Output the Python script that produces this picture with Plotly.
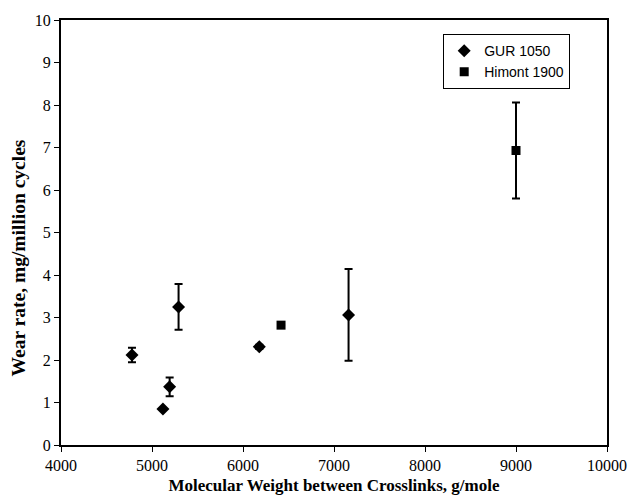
import plotly.graph_objects as go

gur_x = [4780, 5120, 5194, 5292, 6179, 7160]
gur_y = [2.12, 0.85, 1.37, 3.25, 2.31, 3.06]
gur_err = [0.17, 0.0, 0.22, 0.54, 0.05, 1.08]

him_x = [6418, 9000]
him_y = [2.82, 6.93]
him_err = [0.0, 1.13]

x_ticks = [4000, 5000, 6000, 7000, 8000, 9000, 10000]
x_ticktext = ["4000", "5000", "6000", "7000", "8000", "9000", "10000"]
y_ticks = [0, 1, 2, 3, 4, 5, 6, 7, 8, 9, 10]

fig = go.Figure()
fig.add_trace(go.Scatter(
    x=gur_x, y=gur_y, mode="markers", name="GUR 1050",
    marker=dict(symbol="diamond", size=10, color="black"),
    error_y=dict(type="data", array=gur_err, visible=True, color="black", thickness=2, width=4),
))
fig.add_trace(go.Scatter(
    x=him_x, y=him_y, mode="markers", name="Himont 1900",
    marker=dict(symbol="square", size=9, color="black"),
    error_y=dict(type="data", array=him_err, visible=True, color="black", thickness=2, width=4),
))

axis_common = dict(
    showline=True, linecolor="black", linewidth=2, mirror=True,
    ticks="outside", ticklen=5, tickwidth=1, tickcolor="black",
    showgrid=False, zeroline=False, automargin=False,
    tickfont=dict(family="Liberation Serif", size=16, color="black"),
)

fig.update_xaxes(
    range=[4000, 10000], tickvals=x_ticks, ticktext=x_ticktext, **axis_common,
    title=dict(text="<b>Molecular Weight between Crosslinks, g/mole</b>",
               font=dict(family="Liberation Serif", size=17, color="black"), standoff=6),
)
fig.update_yaxes(range=[0, 10], tickvals=y_ticks, **axis_common)

fig.add_annotation(
    text="<b>Wear rate, mg/million cycles</b>", textangle=-90,
    xref="paper", yref="paper", x=-0.078, y=0.44,
    xanchor="center", yanchor="middle", showarrow=False,
    font=dict(family="Liberation Serif", size=19.5, color="black"),
)

fig.update_layout(
    width=628, height=503,
    margin=dict(l=61, r=21, t=20, b=58),
    plot_bgcolor="white", paper_bgcolor="white",
    legend=dict(
        x=0.70, y=0.967, xanchor="left", yanchor="top",
        bgcolor="white", bordercolor="black", borderwidth=1,
        font=dict(family="Liberation Sans", size=14, color="black"),
        itemwidth=30, tracegroupgap=0,
    ),
    showlegend=True,
)

fig.write_html("out.html")
